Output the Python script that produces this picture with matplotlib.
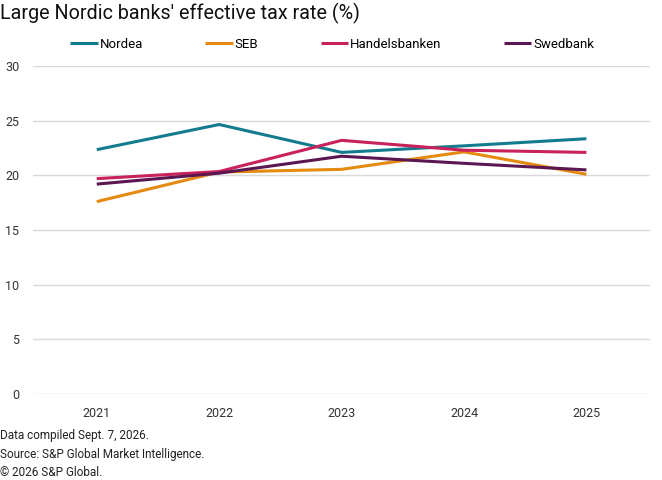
import matplotlib
matplotlib.use("Agg")
import matplotlib.pyplot as plt

years = [2021, 2022, 2023, 2024, 2025]
nordea = [22.35, 24.65, 22.1, 22.7, 23.35]
seb = [17.6, 20.3, 20.55, 22.15, 20.1]
handelsbanken = [19.7, 20.35, 23.2, 22.3, 22.1]
swedbank = [19.2, 20.2, 21.75, 21.1, 20.5]

names = ["Nordea", "SEB", "Handelsbanken", "Swedbank"]
colors = ["#127c8e", "#e58a10", "#c8215b", "#5a1752"]
series = [nordea, seb, handelsbanken, swedbank]

plt.rcParams["font.family"] = ["Roboto", "DejaVu Sans"]

fig = plt.figure(figsize=(6.62, 4.80), dpi=100)
ax = fig.add_axes([0.05, 0.179, 0.932, 0.6835])

for name, vals, col in zip(names, series, colors):
    ax.plot(years, vals, color=col, lw=2.2, label=name, solid_capstyle="butt")

ax.set_ylim(0, 30)
ax.set_xlim(2020.48, 2025.52)
ax.set_yticks(range(0, 31, 5))
ax.set_xticks(years)
ax.grid(axis="y", color="#d9d9d9", lw=1)
ax.set_axisbelow(True)
for s in ax.spines.values():
    s.set_visible(False)
ax.tick_params(length=0, labelsize=9, colors="#333333")
ax.tick_params(axis="y", pad=10)
ax.tick_params(axis="x", pad=9)

fig.legend(loc="center left", bbox_to_anchor=(0.098, 0.908), ncol=4, frameon=False,
           fontsize=9.5, handlelength=2.1, handletextpad=0.15, columnspacing=4.7,
           borderaxespad=0)

fig.text(0.0, 0.972, "Large Nordic banks' effective tax rate (%)", fontsize=14.2,
         va="center", ha="left", color="#111111")
foot = ["Data compiled Sept. 7, 2026.", "Source: S&P Global Market Intelligence.",
        "\u00a9 2026 S&P Global."]
for i, t in enumerate(foot):
    fig.text(0.0, 1 - (436 + 18.5 * i) / 480, t, fontsize=8.5, va="center", ha="left",
             color="#222222")

fig.savefig("out.png", dpi=100)
